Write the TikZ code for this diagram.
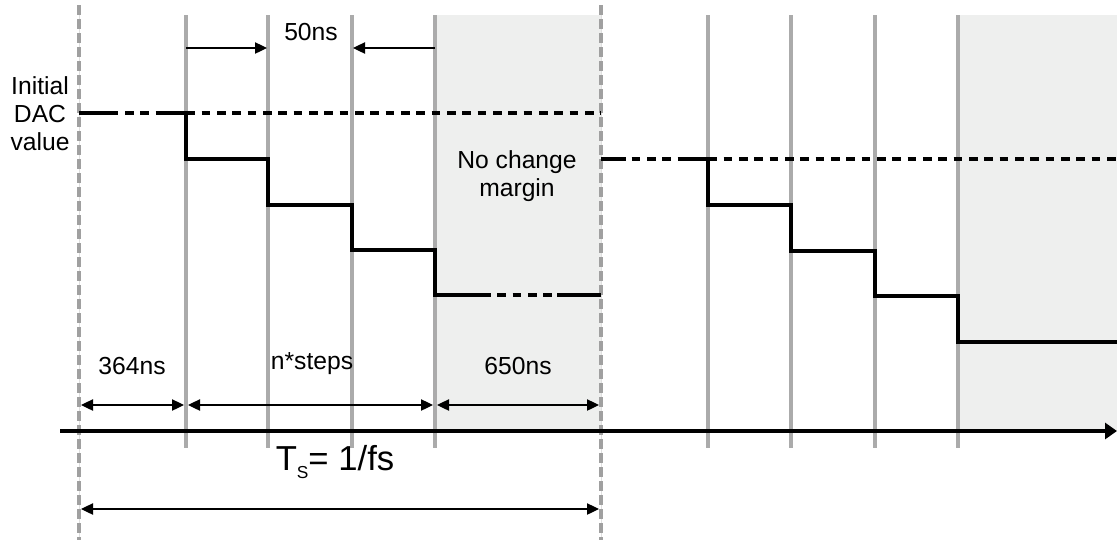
\documentclass[tikz,border=0pt]{standalone}
\usepackage{fontspec}
\setmainfont{Liberation Sans}
\usetikzlibrary{arrows.meta,positioning}
\definecolor{margingray}{HTML}{EEEFEE}
\definecolor{gridgray}{HTML}{ABABAB}
\definecolor{periodgray}{HTML}{A0A0A0}

\begin{document}
\begin{tikzpicture}[
  x=0.75pt, y=-0.75pt,
  >={Triangle[length=9pt,width=8.5pt]},
  grid/.style={draw=gridgray, line width=3pt},
  period/.style={draw=periodgray, line width=3pt, dash pattern=on 7.5pt off 3pt},
  level/.style={line width=3pt},
  held/.style={line width=3pt, dash pattern=on 6.5pt off 5pt},
  dim/.style={<->, line width=0.9pt},
  lbl/.style={font=\fontsize{18.5}{21}\selectfont, align=center, inner sep=0pt},
]

\useasboundingbox (0,0) rectangle (1117,540);

\def\yaxis{431}
\def\ydim{405}

% no change margins
\fill[margingray] (435,15) rectangle (601,\yaxis);
\fill[margingray] (958,15) rectangle (1117,\yaxis);

% step grid
\foreach \x in {186,268,352,435,708,791,875,958}
  \draw[grid] (\x,15) -- (\x,448);

% sample period
\foreach \x in {79,601} {
  \draw[black!12, line width=0.6pt] (\x,5) -- (\x,540);
  \draw[period] (\x,5) -- (\x,540);
}

% first period
\draw[held] (79,113) -- (601,113);
\draw[level] (79,113) -- (110,113);
\draw[level] (158,113) -- (186,113) -- (186,159) -- (268,159) -- (268,205)
  -- (352,205) -- (352,250) -- (435,250) -- (435,295) -- (482,295);
\draw[held] (482,295) -- (557,295);
\draw[level] (557,295) -- (601,295);

% second period
\draw[held] (601,159) -- (1117,159);
\draw[level] (601,159) -- (626,159);
\draw[level] (679,159) -- (708,159) -- (708,205) -- (791,205) -- (791,251)
  -- (875,251) -- (875,296) -- (958,296) -- (958,342) -- (1117,342);

% time axis
\coordinate (axL) at (60,\yaxis);
\coordinate (axR) at (1117,\yaxis);
\draw[-{Triangle[length=9pt,width=12pt]}, line width=3.4pt] (axL) -- (axR);

% step width
\coordinate (s1) at (186,48);
\coordinate (s2) at (267,48);
\coordinate (s3) at (353,48);
\coordinate (s4) at (435,48);
\draw[->, line width=0.9pt] (s1) -- (s2);
\draw[->, line width=0.9pt] (s4) -- (s3);

% durations
\coordinate (d0) at (81,\ydim);
\coordinate (d1a) at (184,\ydim);
\coordinate (d1b) at (188,\ydim);
\coordinate (d2a) at (433,\ydim);
\coordinate (d2b) at (437,\ydim);
\coordinate (d3) at (599,\ydim);
\draw[dim] (d0) -- (d1a);
\draw[dim] (d1b) -- (d2a);
\draw[dim] (d2b) -- (d3);

\coordinate (p0) at (81,509);
\coordinate (p1) at (599,509);
\draw[dim] (p0) -- (p1);

\node[lbl] (init) at (40,114) {Initial\\DAC\\value};
\node[lbl] (fifty) at (311,32) {50ns};
\node[lbl] (nochange) at (517,176) {No change\\margin};
\node[lbl] (t364) at (132,366) {364ns};
\node[lbl] (tsteps) at (312,364) {n*steps};
\node[lbl] (t650) at (518,366) {650ns};
\node[font=\fontsize{26}{30}\selectfont, inner sep=0pt] (tsamp) at (335,462)
  {T\raisebox{-6pt}{\fontsize{13}{13}\selectfont S}= 1/fs};

\end{tikzpicture}
\end{document}
